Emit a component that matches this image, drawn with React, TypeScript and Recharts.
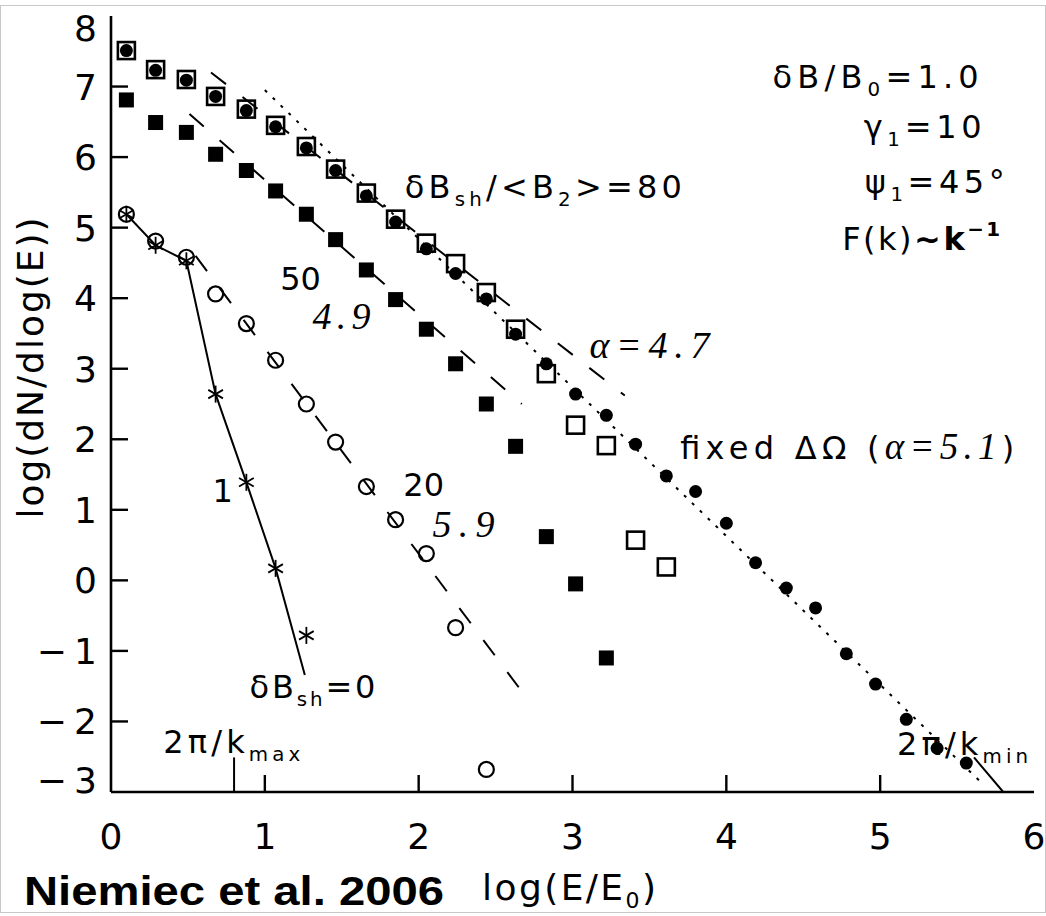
import React from 'react'
import { ScatterChart, Scatter, XAxis, YAxis, ReferenceDot } from 'recharts'

// log(E/E0) bins shared by all runs
const energyBins = [0.10, 0.29, 0.49, 0.68, 0.88, 1.07, 1.27, 1.46, 1.66, 1.85, 2.05, 2.24, 2.44, 2.63, 2.83, 3.02, 3.22, 3.41, 3.61, 3.80, 4.00, 4.19, 4.39, 4.58, 4.78, 4.97, 5.17, 5.37, 5.56]

// log(dN/dlog(E)) per run
const fixedOmega = [7.51, 7.23, 7.09, 6.86, 6.66, 6.43, 6.13, 5.81, 5.45, 5.08, 4.70, 4.35, 3.99, 3.49, 3.07, 2.64, 2.34, 1.93, 1.48, 1.26, 0.81, 0.25, -0.11, -0.39, -1.04, -1.47, -1.97, -2.38, -2.59]
const ratio80 = [7.51, 7.24, 7.10, 6.86, 6.68, 6.45, 6.15, 5.83, 5.49, 5.12, 4.78, 4.49, 4.08, 3.56, 2.93, 2.20, 1.91, 0.57, 0.19]
const ratio50 = [6.81, 6.49, 6.35, 6.04, 5.81, 5.52, 5.19, 4.83, 4.40, 3.98, 3.56, 3.07, 2.50, 1.90, 0.62, -0.05, -1.10]
const ratio20 = [5.19, 4.81, 4.58, 4.06, 3.64, 3.12, 2.50, 1.96, 1.33, 0.86, 0.38, -0.67, -2.68]
const ratio1 = [5.19, 4.75, 4.53, 2.64, 1.39, 0.17, -0.78]

// power-law fits and guide marks, [x, y]
const fitFixed = [[1.0, 6.95], [5.65, -2.85]]
const fit80 = [[0.65, 7.20], [3.34, 2.62]]
const fit50 = [[0.51, 6.61], [2.67, 2.50]]
const fit20 = [[0.55, 4.60], [2.70, -1.66]]
const curve1 = [[0.10, 5.19], [0.29, 4.75], [0.49, 4.53], [0.68, 2.64], [0.88, 1.39], [1.07, 0.17], [1.26, -1.34]]
const kmaxMark = [[0.8, -3], [0.8, -2.51]]
const kminMark = [[5.61, -2.51], [5.80, -3.0]]

const xTicks = [0, 1, 2, 3, 4, 5, 6]
const yTicks = [-3, -2, -1, 0, 1, 2, 3, 4, 5, 6, 7, 8]

const SANS = '"DejaVu Sans", "Liberation Sans", sans-serif'
const SERIF = '"Liberation Serif", "DejaVu Serif", serif'
const TICK_LEN = 17

const pts = (ys: number[]) => ys.map((y, i) => ({ x: energyBins[i], y }))
const seg = (p: number[][]) => p.map(([x, y]) => ({ x, y }))

const dotShape = (p: any) => <circle cx={p.cx} cy={p.cy} r={6.5} fill="#000" />
const boxShape = (p: any) => (
  <rect x={p.cx - 8.5} y={p.cy - 8.5} width={17} height={17} fill="none" stroke="#000" strokeWidth={2.6} />
)
const squareShape = (p: any) => <rect x={p.cx - 7.5} y={p.cy - 7.5} width={15} height={15} fill="#000" />
const ringShape = (p: any) => <circle cx={p.cx} cy={p.cy} r={7.5} fill="none" stroke="#000" strokeWidth={2.2} />
const starShape = (p: any) => {
  const r = 8.5
  const arms = [90, 30, 150].map((a) => (a * Math.PI) / 180)
  return (
    <g stroke="#000" strokeWidth={1.8}>
      {arms.map((a, i) => (
        <line key={i} x1={p.cx - r * Math.cos(a)} y1={p.cy - r * Math.sin(a)} x2={p.cx + r * Math.cos(a)} y2={p.cy + r * Math.sin(a)} />
      ))}
    </g>
  )
}
const noShape = () => <g />

const fmt = (v: number) => (v < 0 ? `\u2212\u2009${-v}` : `${v}`)

const BottomTick = ({ x, y, payload }: any) => {
  const v = payload.value
  return (
    <g>
      {v > 0 && v < 6 && <line x1={x} x2={x} y1={y} y2={y - TICK_LEN} stroke="#000" strokeWidth={2.4} />}
      <text x={x} y={y + 57} textAnchor="middle" fontFamily={SANS} fontSize={36} fill="#000">
        {v}
      </text>
    </g>
  )
}

const TopTick = ({ x, y, payload }: any) => {
  const v = payload.value
  if (v <= 0 || v >= 6) return <g />
  return <line x1={x} x2={x} y1={y} y2={y + TICK_LEN} stroke="#000" strokeWidth={2.4} />
}

const LeftTick = ({ x, y, payload }: any) => {
  const v = payload.value
  const shift = v === 8 ? 12 : v === -3 ? -12 : 0
  return (
    <g>
      {v > -3 && v < 8 && <line x1={x} x2={x + TICK_LEN} y1={y} y2={y} stroke="#000" strokeWidth={2.4} />}
      <text x={x - 14} y={y + shift + 13} textAnchor="end" fontFamily={SANS} fontSize={36} fill="#000">
        {fmt(v)}
      </text>
    </g>
  )
}

const RightTick = ({ x, y, payload }: any) => {
  const v = payload.value
  if (v <= -3 || v >= 8) return <g />
  return <line x1={x} x2={x - TICK_LEN} y1={y} y2={y} stroke="#000" strokeWidth={2.4} />
}

// subscript followed by the rest of the string on the normal baseline
const sub = (s: string, fs: number, rest?: string) => [
  <tspan key="a" fontSize={fs * 0.62} dy={fs * 0.24}>{s}</tspan>,
  rest ? <tspan key="b" dy={-fs * 0.24}>{rest}</tspan> : null,
]

// text placed at a data position (left/right edge, vertical centre of caps)
function note(x: number, y: number, body: (fs: number) => React.ReactNode, opts: any = {}) {
  const fs = opts.fs ?? 32
  return (
    <ReferenceDot
      key={`${x}-${y}`}
      x={x}
      y={y}
      r={0}
      ifOverflow="visible"
      shape={(p: any) => (
        <text
          x={p.cx}
          y={p.cy + fs * 0.34}
          textAnchor={opts.anchor ?? 'start'}
          fontFamily={opts.font ?? SANS}
          fontStyle={opts.italic ? 'italic' : 'normal'}
          fontSize={fs}
          fill="#000"
          textLength={opts.len}
          lengthAdjust="spacing"
        >
          {body(fs)}
        </text>
      )}
    />
  )
}

const lineStyle = { stroke: '#000', strokeWidth: 2 }

export default function App() {
  return (
    <div style={{ position: 'absolute', left: 0, top: 0, width: 1046, height: 916, background: '#fff' }}>
      <div
        style={{
          position: 'absolute',
          left: 0,
          top: 5,
          width: 1046,
          height: 908,
          boxSizing: 'border-box',
          border: '1px solid #c8c8c8',
        }}
      />
      <ScatterChart width={1046} height={916} margin={{ top: 16, right: 12, bottom: 0, left: 0 }}>
        <XAxis
          type="number"
          dataKey="x"
          domain={[0, 6]}
          ticks={xTicks}
          interval={0}
          height={124}
          tickSize={0}
          tickMargin={0}
          tickLine={false}
          axisLine={{ stroke: '#000', strokeWidth: 2.6 }}
          tick={(p: any) => <BottomTick {...p} />}
          allowDataOverflow
        />
        <XAxis
          xAxisId="top"
          orientation="top"
          type="number"
          dataKey="x"
          domain={[0, 6]}
          ticks={xTicks}
          interval={0}
          height={0}
          tickSize={0}
          tickMargin={0}
          tickLine={false}
          axisLine={{ stroke: '#000', strokeWidth: 2.6 }}
          tick={(p: any) => <TopTick {...p} />}
          allowDataOverflow
        />
        <YAxis
          type="number"
          dataKey="y"
          domain={[-3, 8]}
          ticks={yTicks}
          interval={0}
          width={111}
          tickSize={0}
          tickMargin={0}
          tickLine={false}
          axisLine={{ stroke: '#000', strokeWidth: 2.6 }}
          tick={(p: any) => <LeftTick {...p} />}
          allowDataOverflow
        />
        <YAxis
          yAxisId="right"
          orientation="right"
          type="number"
          dataKey="y"
          domain={[-3, 8]}
          ticks={yTicks}
          interval={0}
          width={0}
          tickSize={0}
          tickMargin={0}
          tickLine={false}
          axisLine={{ stroke: '#000', strokeWidth: 2.6 }}
          tick={(p: any) => <RightTick {...p} />}
          allowDataOverflow
        />

        <Scatter data={seg(fitFixed)} line={{ ...lineStyle, strokeDasharray: '3 8' }} shape={noShape} isAnimationActive={false} />
        <Scatter data={seg(fit80)} line={{ ...lineStyle, strokeDasharray: '19 21' }} shape={noShape} isAnimationActive={false} />
        <Scatter data={seg(fit50)} line={{ ...lineStyle, strokeDasharray: '19 21' }} shape={noShape} isAnimationActive={false} />
        <Scatter data={seg(fit20)} line={{ ...lineStyle, strokeDasharray: '19 21' }} shape={noShape} isAnimationActive={false} />
        <Scatter data={seg(curve1)} line={lineStyle} shape={noShape} isAnimationActive={false} />
        <Scatter data={seg(kmaxMark)} line={lineStyle} shape={noShape} isAnimationActive={false} />
        <Scatter data={seg(kminMark)} line={lineStyle} shape={noShape} isAnimationActive={false} />

        <Scatter data={pts(ratio80)} shape={boxShape} isAnimationActive={false} />
        <Scatter data={pts(fixedOmega)} shape={dotShape} isAnimationActive={false} />
        <Scatter data={pts(ratio50)} shape={squareShape} isAnimationActive={false} />
        <Scatter data={pts(ratio20)} shape={ringShape} isAnimationActive={false} />
        <Scatter data={pts(ratio1)} shape={starShape} isAnimationActive={false} />

        {note(1.91, 5.57, (fs) => (
          <>
            {'\u03b4B'}
            {sub('sh', fs, '/<B')}
            {sub('2', fs, '>=80')}
          </>
        ), { len: 277 })}
        {note(1.10, 4.27, () => '50')}
        {note(1.31, 3.75, () => '4.9', { font: SERIF, italic: true, fs: 38, len: 58 })}
        {note(3.11, 3.33, () => '\u03b1=4.7', { font: SERIF, italic: true, fs: 38, len: 120 })}
        {note(3.70, 1.87, () => (
          <>
            {'fixed \u0394\u03a9 ('}
            <tspan fontFamily={SERIF} fontStyle="italic" fontSize={37}>{'\u03b1=5.1'}</tspan>
            {')'}
          </>
        ), { len: 334 })}
        {note(1.90, 1.35, () => '20')}
        {note(2.09, 0.80, () => '5.9', { font: SERIF, italic: true, fs: 38, len: 62 })}
        {note(0.66, 1.27, () => '1')}
        {note(0.90, -1.52, (fs) => (
          <>
            {'\u03b4B'}
            {sub('sh', fs, '=0')}
          </>
        ), { len: 126 })}
        {note(0.34, -2.30, (fs) => (
          <>
            {'2\u03c0/k'}
            {sub('max', fs)}
          </>
        ), { len: 137 })}
        {note(5.11, -2.32, (fs) => (
          <>
            {'2\u03c0/k'}
            {sub('min', fs)}
          </>
        ), { len: 131 })}
        {note(5.64, 7.13, (fs) => (
          <>
            {'\u03b4B/B'}
            {sub('0', fs, '=1.0')}
          </>
        ), { anchor: 'end', len: 206 })}
        {note(5.66, 6.42, (fs) => (
          <>
            {'\u03b3'}
            {sub('1', fs, '=10')}
          </>
        ), { anchor: 'end', len: 118 })}
        {note(5.81, 5.64, (fs) => (
          <>
            {'\u03c8'}
            {sub('1', fs, '=45\u00b0')}
          </>
        ), { anchor: 'end', len: 140 })}
        {note(5.78, 4.84, (fs) => (
          <>
            {'F(k)'}
            <tspan fontWeight="bold">{'~k'}</tspan>
            <tspan fontWeight="bold" fontSize={fs * 0.62} dy={-fs * 0.42}>{'\u22121'}</tspan>
          </>
        ), { anchor: 'end', len: 158 })}
      </ScatterChart>
      <svg width={1046} height={916} style={{ position: 'absolute', left: 0, top: 0, pointerEvents: 'none' }}>
        <text
          transform="translate(43,368) rotate(-90)"
          textAnchor="middle"
          fontFamily={SANS}
          fontSize={36}
          fill="#000"
          textLength={301}
          lengthAdjust="spacing"
        >
          log(dN/dlog(E))
        </text>
        <text x={569} y={900} textAnchor="middle" fontFamily={SANS} fontSize={36} fill="#000" textLength={174} lengthAdjust="spacing">
          <tspan>log(E/E</tspan>
          <tspan fontSize={22} dy={8}>0</tspan>
          <tspan dy={-8}>)</tspan>
        </text>
        <text
          x={24}
          y={905}
          fontFamily='"Liberation Sans", Arial, sans-serif'
          fontWeight="bold"
          fontSize={40}
          fill="#000"
          textLength={420}
          lengthAdjust="spacingAndGlyphs"
        >
          Niemiec et al. 2006
        </text>
      </svg>
    </div>
  )
}
